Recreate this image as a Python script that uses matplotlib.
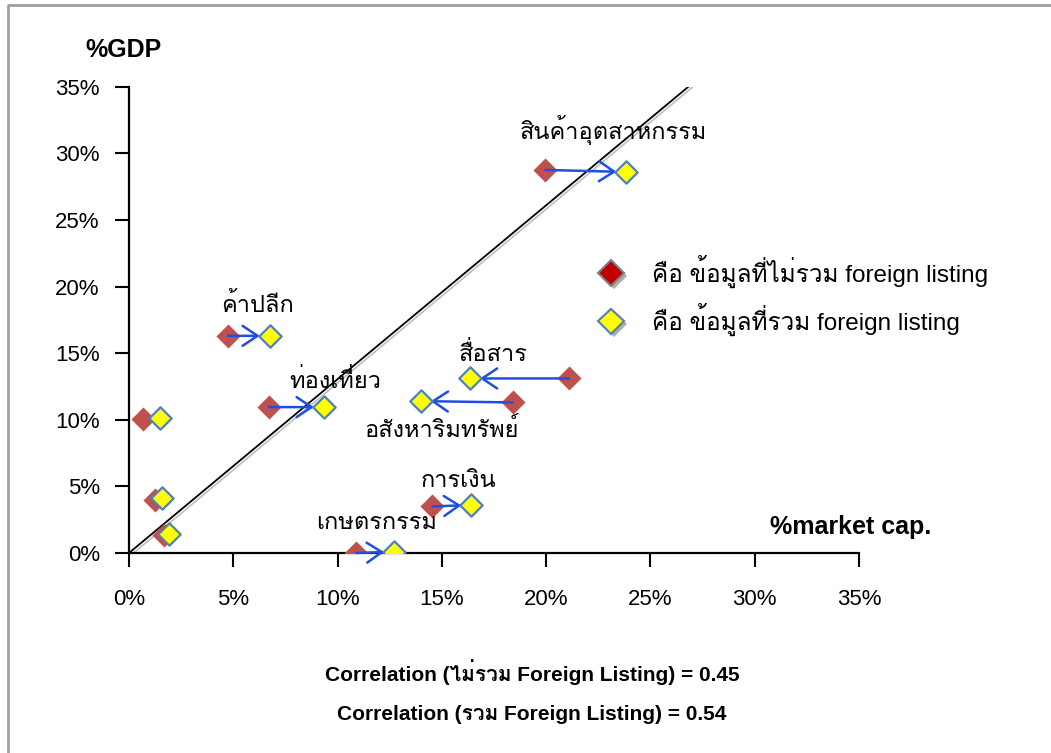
import matplotlib
matplotlib.use("Agg")
import matplotlib.pyplot as plt
import matplotlib.patheffects as pe
from matplotlib import font_manager
from matplotlib.ft2font import FT2Font
from matplotlib.lines import Line2D
from matplotlib.ticker import FuncFormatter


def find_thai_font():
    # first installed font that has Thai glyphs, if any
    for path in sorted(font_manager.findSystemFonts()):
        try:
            if 0x0E01 in FT2Font(path).get_charmap():
                return font_manager.FontProperties(fname=path).get_name()
        except Exception:
            pass
    return None


thai = find_thai_font()
families = ["Liberation Sans"] + ([thai] if thai else []) + ["DejaVu Sans"]
plt.rcParams["font.family"] = families

# sector data, % of market cap (x) and % of GDP (y)
sectors = ["สินค้าอุตสาหกรรม", "ค้าปลีก", "ท่องเที่ยว", "สื่อสาร",
           "อสังหาริมทรัพย์", "การเงิน", "เกษตรกรรม", "", "", ""]
x_excl = [19.97, 4.74, 6.71, 21.1, 18.4, 14.55, 10.9, 0.67, 1.23, 1.70]
y_excl = [28.75, 16.3, 10.95, 13.1, 11.3, 3.5, 0.0, 10.05, 4.0, 1.33]
x_incl = [23.83, 6.74, 9.33, 16.36, 14.0, 16.4, 12.7, 1.48, 1.57, 1.91]
y_incl = [28.6, 16.3, 10.95, 13.1, 11.4, 3.6, 0.1, 10.1, 4.15, 1.45]

# label positions (centre of text)
label_x = [23.2, 6.18, 9.9, 17.45, 15.0, 15.8, 11.85]
label_y = [31.75, 18.6, 12.9, 14.9, 9.2, 5.4, 2.25]

# reference line as drawn on the sheet
ref_x = [0, 26.9]
ref_y = [0, 35.1]

ticks = [0, 5, 10, 15, 20, 25, 30, 35]
corr_lines = ["Correlation (ไม่รวม Foreign Listing) = 0.45",
              "Correlation (รวม Foreign Listing) = 0.54"]
legend_labels = ["คือ ข้อมูลที่ไม่รวม foreign listing",
                 "คือ ข้อมูลที่รวม foreign listing"]

red = "#C0504D"
yellow = "#FFFF00"
edge = "#4F81BD"
arrow_col = "#1F4FE0"

fig = plt.figure(figsize=(10.51, 7.53), dpi=100)
ax = fig.add_axes([0.1227, 0.2656, 0.6946, 0.6193])

ax.plot(ref_x, ref_y, color="black", lw=1.3, zorder=2,
        path_effects=[pe.SimpleLineShadow(offset=(1.5, -1.5), shadow_color="#999999", alpha=0.6),
                      pe.Normal()])

ax.scatter(x_excl, y_excl, marker="D", s=150, color=red, linewidths=0, zorder=3)

for i in range(len(sectors)):
    if not sectors[i]:
        continue
    ax.annotate("", xy=(x_incl[i], y_incl[i]), xytext=(x_excl[i], y_excl[i]),
                arrowprops=dict(arrowstyle="->,head_length=0.9,head_width=0.6",
                                color=arrow_col, lw=1.8, shrinkA=0, shrinkB=7,
                                mutation_scale=12),
                zorder=4)
    ax.text(label_x[i], label_y[i], sectors[i], fontsize=17,
            ha="center", va="center", zorder=6)

ax.scatter(x_incl, y_incl, marker="D", s=130, color=yellow, edgecolors=edge,
           linewidths=1.6, zorder=5)

ax.set_xlim(0, 35)
ax.set_ylim(0, 35)
ax.set_xticks(ticks)
ax.set_yticks(ticks)
pct = FuncFormatter(lambda v, p: "%d%%" % v)
ax.xaxis.set_major_formatter(pct)
ax.yaxis.set_major_formatter(pct)
ax.tick_params(axis="both", direction="out", length=10, width=1.5, labelsize=16)
ax.tick_params(axis="x", pad=16)
ax.tick_params(axis="y", pad=11)
for s in ["top", "right"]:
    ax.spines[s].set_visible(False)
for s in ["left", "bottom"]:
    ax.spines[s].set_linewidth(1.6)
ax.patch.set_visible(False)

fig.text(123 / 1051, 1 - 50 / 753, "%GDP", fontsize=18, fontweight="bold",
         ha="center", va="center")
fig.text(851 / 1051, 1 - 527 / 753, "%market cap.", fontsize=18, fontweight="bold",
         ha="center", va="center")

shadow = [pe.SimplePatchShadow(offset=(2, -2), shadow_rgbFace="#777777", alpha=0.6), pe.Normal()]
handles = [Line2D([], [], ls="", marker="D", markersize=13, markerfacecolor="#C00000",
                  markeredgecolor="#808080", markeredgewidth=1.5, path_effects=shadow),
           Line2D([], [], ls="", marker="D", markersize=13, markerfacecolor=yellow,
                  markeredgecolor=edge, markeredgewidth=1.5, path_effects=shadow)]
fig.legend(handles, legend_labels, loc="upper left",
           bbox_to_anchor=(577 / 1051, 1 - 245 / 753), frameon=False,
           fontsize=17.5, handletextpad=0.7, labelspacing=0.62, borderaxespad=0)

fig.text(532 / 1051, 1 - 672 / 753, corr_lines[0], fontsize=15, fontweight="bold",
         ha="center", va="center")
fig.text(532 / 1051, 1 - 714 / 753, corr_lines[1], fontsize=15, fontweight="bold",
         ha="center", va="center")

# sheet frame (top and left edges)
fig.add_artist(Line2D([8 / 1051, 8 / 1051, 1.0], [0, 1 - 5 / 753, 1 - 5 / 753],
                      transform=fig.transFigure, color="#A0A0A0", lw=2))

fig.savefig("out.png", dpi=100)
